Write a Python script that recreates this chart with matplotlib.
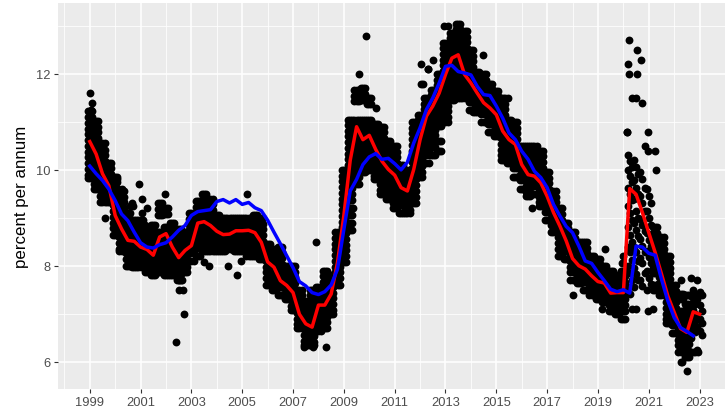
#!/usr/bin/env python3
import matplotlib
matplotlib.use("Agg")
from matplotlib import pyplot as plt

plt.rcParams["font.family"] = ["Liberation Sans", "DejaVu Sans"]

# ------------------------------------------------------------------------------
#  Data
# ------------------------------------------------------------------------------
START_YEAR = 1999

red_line = [
    10.59, 10.33, 9.92, 9.67, 9.05, 8.77, 8.53, 8.51,
    8.39, 8.34, 8.22, 8.60, 8.67, 8.39, 8.17, 8.32,
    8.42, 8.89, 8.92, 8.84, 8.72, 8.65, 8.66, 8.73,
    8.73, 8.74, 8.69, 8.49, 8.08, 7.97, 7.69, 7.59,
    7.44, 6.99, 6.79, 6.72, 7.18, 7.18, 7.41, 8.07,
    9.05, 10.2, 10.9, 10.63, 10.72, 10.43, 10.18, 10.01,
    9.89, 9.63, 9.56, 10.01, 10.63, 11.12, 11.33, 11.6,
    11.99, 12.33, 12.4, 11.99, 11.81, 11.6, 11.4, 11.29,
    11.15, 10.81, 10.63, 10.53, 10.11, 9.9, 9.87, 9.73,
    9.45, 9.11, 8.83, 8.52, 8.15, 8.0, 7.93, 7.79,
    7.67, 7.64, 7.43, 7.44, 7.44, 9.61, 9.49, 9.11,
    8.69, 8.28, 7.83, 7.37, 7.03, 6.69, 6.61, 7.04,
    6.99,
]

blue_line = [
    10.08, 9.92, 9.78, 9.6, 9.36, 9.08, 8.94, 8.7,
    8.48, 8.39, 8.37, 8.44, 8.48, 8.6, 8.74, 8.84,
    9.05, 9.13, 9.15, 9.17, 9.34, 9.38, 9.31, 9.38,
    9.28, 9.32, 9.21, 9.15, 8.95, 8.7, 8.46, 8.21,
    7.96, 7.67, 7.58, 7.44, 7.4, 7.46, 7.6, 7.93,
    8.76, 9.56, 9.8, 10.11, 10.27, 10.34, 10.22, 10.24,
    10.13, 10.0, 10.16, 10.56, 10.88, 11.26, 11.5, 11.81,
    12.16, 12.18, 12.05, 12.02, 11.98, 11.74, 11.57, 11.55,
    11.33, 11.08, 10.77, 10.63, 10.39, 10.22, 9.97, 9.84,
    9.63, 9.28, 9.04, 8.82, 8.69, 8.41, 8.1, 8.05,
    7.86, 7.69, 7.51, 7.46, 7.5, 7.43, 8.41, 8.39,
    8.26, 8.22, 7.72, 7.27, 6.92, 6.71, 6.63, 6.54,
]

# one list of rates per quarter
dots_1999 = [
    [11.22, 11.1, 10.98, 10.86, 10.74, 10.62, 10.5, 10.38, 10.26, 10.14, 10.02, 9.9, 9.82],
    [11.02, 10.9, 10.8, 10.66, 10.56, 10.42, 10.32, 10.18, 10.08, 9.94, 9.84, 9.7, 9.6],
    [10.55, 10.42, 10.3, 10.18, 10.06, 9.94, 9.82, 9.7, 9.58, 9.46, 9.33],
    [10.15, 10.04, 9.92, 9.8, 9.68, 9.56, 9.44, 9.32],
]
dots_2000 = [
    [9.85, 9.74, 9.62, 9.5, 9.38, 9.26, 9.14, 9.02, 8.9, 8.78, 8.65],
    [9.55, 9.44, 9.32, 9.2, 9.08, 8.96, 8.84, 8.72, 8.6, 8.48, 8.36, 8.3],
    [9.1, 8.98, 8.86, 8.74, 8.62, 8.5, 8.38, 8.26, 8.14, 8.0],
    [8.95, 8.84, 8.72, 8.6, 8.48, 8.36, 8.24, 8.12, 7.97],
]
dots_2001 = [
    [8.95, 8.82, 8.7, 8.58, 8.46, 8.34, 8.22, 8.1, 7.97],
    [8.77, 8.66, 8.54, 8.42, 8.3, 8.18, 8.06, 7.94, 7.87],
    [8.85, 8.72, 8.6, 8.48, 8.36, 8.24, 8.12, 8.0, 7.88, 7.8],
    [9.3, 9.18, 9.06, 8.7, 8.58, 8.46, 8.34, 8.22, 8.1, 7.98, 7.87],
]
dots_2002 = [
    [9.2, 9.08, 8.8, 8.68, 8.56, 8.44, 8.32, 8.2, 8.08, 7.96, 7.8],
    [8.9, 8.78, 8.66, 8.54, 8.42, 8.3, 8.18, 8.06, 7.94, 7.8],
    [8.77, 8.66, 8.54, 8.42, 8.3, 8.18, 8.06, 7.94, 7.82, 7.7],
    [8.7, 8.58, 8.46, 8.34, 8.22, 8.1, 7.98, 7.87],
]
dots_2003 = [
    [9.1, 8.98, 8.86, 8.74, 8.62, 8.5, 8.38, 8.26, 8.1],
    [9.35, 9.22, 9.1, 8.98, 8.86, 8.74, 8.62, 8.5, 8.38, 8.2],
    [9.5, 9.38, 9.26, 9.14, 9.02, 8.9, 8.78, 8.66, 8.54, 8.42, 8.3],
    [9.4, 9.28, 9.16, 9.04, 8.92, 8.8, 8.68, 8.56, 8.44, 8.3],
]
dots_2004 = [
    [9.05, 8.94, 8.82, 8.7, 8.58, 8.46, 8.3],
    [9.0, 8.88, 8.76, 8.64, 8.52, 8.4, 8.3],
    [9.0, 8.9, 8.78, 8.66, 8.54, 8.42, 8.35],
    [9.0, 8.88, 8.76, 8.64, 8.52, 8.4, 8.3],
]
dots_2005 = [
    [9.0, 8.9, 8.78, 8.66, 8.54, 8.42, 8.3],
    [9.0, 8.88, 8.76, 8.64, 8.52, 8.4, 8.28, 8.2],
    [9.05, 8.94, 8.82, 8.7, 8.58, 8.46, 8.34, 8.2],
    [9.0, 8.88, 8.76, 8.64, 8.52, 8.4, 8.28, 8.15],
]
dots_2006 = [
    [8.45, 8.34, 8.22, 8.1, 7.98, 7.86, 7.74, 7.6],
    [8.35, 8.24, 8.12, 8.0, 7.88, 7.76, 7.64, 7.5],
    [8.4, 8.28, 8.16, 8.04, 7.92, 7.8, 7.68, 7.56, 7.4],
    [8.0, 7.88, 7.76, 7.64, 7.52, 7.4, 7.3],
]
dots_2007 = [
    [8.0, 7.88, 7.76, 7.64, 7.52, 7.4, 7.28, 7.16, 7.08],
    [7.5, 7.38, 7.26, 7.14, 7.02, 6.9, 6.78, 6.7],
    [7.27, 7.16, 7.04, 6.92, 6.8, 6.68, 6.56, 6.44, 6.35],
    [7.5, 7.38, 7.26, 7.14, 7.02, 6.9, 6.78, 6.66, 6.54, 6.42, 6.35],
]
dots_2008 = [
    [7.55, 7.44, 7.32, 7.2, 7.08, 6.96, 6.84, 6.72, 6.65],
    [7.9, 7.78, 7.66, 7.54, 7.42, 7.3, 7.18, 7.06, 6.94, 6.82, 6.7],
    [7.8, 7.68, 7.56, 7.44, 7.32, 7.2, 7.08, 7.0],
    [8.7, 8.58, 8.46, 8.34, 8.22, 8.1, 7.98, 7.86, 7.74, 7.6],
]
dots_2009 = [
    [10.0, 9.88, 9.76, 9.64, 9.52, 9.4, 9.28, 9.16, 9.04, 8.92, 8.8, 8.68, 8.56, 8.44, 8.32, 8.2, 8.07],
    [11.05, 10.94, 10.82, 10.7, 10.58, 10.46, 10.34, 10.22, 10.1, 9.98, 9.86, 9.74, 9.62, 9.5, 9.38, 9.2, 9.05, 8.9, 8.75],
    [11.67, 11.55, 11.43, 11.05, 10.93, 10.81, 10.69, 10.57, 10.45, 10.33, 10.21, 10.09, 9.97, 9.85, 9.7],
    [11.7, 11.58, 11.46, 11.05, 10.94, 10.82, 10.7, 10.58, 10.46, 10.34, 10.22, 10.1, 9.95],
]
dots_2010 = [
    [11.5, 11.38, 11.05, 10.92, 10.8, 10.68, 10.56, 10.44, 10.32, 10.2, 10.08, 10.0],
    [10.95, 10.84, 10.72, 10.6, 10.48, 10.36, 10.24, 10.12, 10.0, 9.88, 9.8],
    [10.9, 10.78, 10.66, 10.54, 10.42, 10.3, 10.18, 10.06, 9.94, 9.82, 9.7, 9.58, 9.5],
    [10.6, 10.48, 10.36, 10.24, 10.12, 10.0, 9.88, 9.76, 9.64, 9.52, 9.4],
]
dots_2011 = [
    [10.5, 10.38, 10.26, 10.14, 10.02, 9.9, 9.78, 9.66, 9.54, 9.42, 9.3, 9.2],
    [10.1, 9.98, 9.86, 9.74, 9.62, 9.5, 9.38, 9.26, 9.1],
    [10.0, 9.88, 9.76, 9.64, 9.52, 9.4, 9.28, 9.16, 9.1],
    [11.0, 10.88, 10.76, 10.64, 10.52, 10.4, 10.28, 10.16, 10.04, 9.92, 9.8, 9.68, 9.56, 9.44, 9.3],
]
dots_2012 = [
    [11.15, 11.04, 10.92, 10.8, 10.68, 10.56, 10.44, 10.32, 10.2, 10.08, 9.96, 9.85],
    [11.5, 11.38, 11.26, 11.14, 11.02, 10.9, 10.78, 10.66, 10.54, 10.42, 10.3, 10.15],
    [11.67, 11.56, 11.44, 11.32, 11.2, 11.08, 10.96, 10.84, 10.72, 10.6, 10.48, 10.3],
    [12.0, 11.88, 11.76, 11.64, 11.52, 11.4, 11.28, 11.16, 11.04, 10.92, 10.6, 10.4],
]
dots_2013 = [
    [12.65, 12.54, 12.42, 12.3, 12.18, 12.06, 11.94, 11.82, 11.7, 11.58, 11.46, 11.34, 11.22, 11.1, 11.0],
    [12.85, 12.74, 12.62, 12.5, 12.38, 12.26, 12.14, 12.02, 11.9, 11.78, 11.66, 11.54, 11.45],
    [13.05, 12.94, 12.82, 12.7, 12.58, 12.46, 12.34, 12.22, 12.1, 11.98, 11.86, 11.74, 11.62, 11.5],
    [12.9, 12.78, 12.66, 12.54, 12.42, 12.3, 12.18, 12.06, 11.94, 11.82, 11.7, 11.58, 11.5],
]
dots_2014 = [
    [12.5, 12.38, 12.26, 12.14, 12.02, 11.9, 11.78, 11.66, 11.54, 11.42, 11.25],
    [12.05, 11.94, 11.82, 11.7, 11.58, 11.46, 11.34, 11.2],
    [12.0, 11.88, 11.76, 11.64, 11.52, 11.4, 11.28, 11.16, 11.0],
    [11.8, 11.68, 11.56, 11.44, 11.32, 11.2, 11.08, 10.96, 10.8],
]
dots_2015 = [
    [11.65, 11.54, 11.42, 11.3, 11.18, 11.06, 10.94, 10.82, 10.7],
    [11.5, 11.38, 11.26, 11.14, 11.02, 10.9, 10.78, 10.66, 10.54, 10.42, 10.3, 10.2],
    [11.05, 10.94, 10.82, 10.7, 10.58, 10.46, 10.34, 10.22, 10.15],
    [11.0, 10.88, 10.76, 10.64, 10.52, 10.4, 10.28, 10.16, 10.04, 9.85],
]
dots_2016 = [
    [10.5, 10.38, 10.26, 10.14, 10.02, 9.9, 9.78, 9.6],
    [10.5, 10.38, 10.26, 10.14, 10.02, 9.9, 9.78, 9.66, 9.54, 9.45],
    [10.5, 10.38, 10.26, 10.14, 10.02, 9.9, 9.78, 9.66, 9.5],
    [10.4, 10.28, 10.16, 10.04, 9.92, 9.8, 9.68, 9.56, 9.44, 9.32, 9.25],
]
dots_2017 = [
    [9.95, 9.84, 9.72, 9.6, 9.48, 9.36, 9.24, 9.12, 8.95],
    [9.55, 9.44, 9.32, 9.2, 9.08, 8.96, 8.84, 8.7],
    [9.2, 9.08, 8.96, 8.84, 8.72, 8.6, 8.48, 8.36, 8.2],
    [8.9, 8.78, 8.66, 8.54, 8.42, 8.3, 8.15],
]
dots_2018 = [
    [8.7, 8.58, 8.46, 8.34, 8.22, 8.1, 7.98, 7.86, 7.7],
    [8.5, 8.38, 8.26, 8.14, 8.02, 7.9, 7.78, 7.65],
    [8.5, 8.38, 8.26, 8.14, 8.02, 7.9, 7.78, 7.66, 7.5],
    [8.2, 8.08, 7.96, 7.84, 7.72, 7.6, 7.48, 7.4],
]
dots_2019 = [
    [8.15, 8.04, 7.92, 7.8, 7.68, 7.56, 7.44, 7.3],
    [8.0, 7.88, 7.76, 7.64, 7.52, 7.4, 7.25],
    [7.9, 7.78, 7.66, 7.54, 7.42, 7.3, 7.18, 7.05],
    [7.8, 7.68, 7.56, 7.44, 7.32, 7.2, 7.08, 7.0],
]
dots_2020 = [
    [7.9, 7.78, 7.66, 7.54, 7.42, 7.3, 7.18, 7.06, 6.9],
    [10.3, 10.18, 10.05, 10.0, 9.88, 9.75, 9.62, 9.5, 9.38, 9.25, 9.1, 8.95, 8.8, 8.65, 8.5, 8.4, 8.28, 8.12, 8.0, 7.85, 7.7, 7.55, 7.42, 7.1],
    [10.2, 10.05, 9.92, 9.78, 9.62, 9.5, 9.4, 9.15, 9.0, 8.9, 8.75, 8.62, 8.4, 8.28, 8.1, 7.95, 7.82, 7.7, 7.55, 7.1],
    [9.95, 9.8, 9.62, 9.45, 9.3, 9.15, 8.98, 8.85, 8.72, 8.55, 8.42, 8.28, 8.16, 8.05, 7.85, 7.7, 7.58],
]
dots_2021 = [
    [9.6, 9.45, 9.3, 9.15, 9.0, 8.85, 8.68, 8.54, 8.42, 8.3, 8.18, 8.05, 7.9, 7.75, 7.62, 7.5],
    [8.8, 8.68, 8.56, 8.44, 8.32, 8.2, 8.08, 7.96, 7.84, 7.6, 7.5],
    [8.6, 8.48, 8.36, 8.24, 8.12, 8.0, 7.88, 7.76, 7.64, 7.52, 7.4],
    [8.2, 8.08, 7.96, 7.84, 7.72, 7.6, 7.48, 7.36, 7.24, 7.12, 7.0, 6.88, 6.8],
]
dots_2022 = [
    [7.6, 7.48, 7.36, 7.24, 7.12, 7.0, 6.88, 6.76, 6.6],
    [7.42, 7.3, 7.05, 6.94, 6.82, 6.7, 6.58, 6.46, 6.34, 6.2],
    [7.38, 7.2, 7.08, 6.96, 6.84, 6.72, 6.6, 6.48, 6.36, 6.22, 6.1],
    [7.75, 7.5, 7.42, 7.36, 7.25, 7.2, 7.12, 7.08, 7.0, 6.96, 6.9, 6.84, 6.78, 6.72, 6.62, 6.5, 6.2],
]
dots_2023 = [
    [7.7, 7.45, 7.38, 7.3, 7.18, 7.05, 6.95, 6.88, 6.8, 6.72, 6.65, 6.55, 6.25],
]
all_dots = [
    dots_1999, dots_2000, dots_2001, dots_2002, dots_2003, dots_2004, dots_2005,
    dots_2006, dots_2007, dots_2008, dots_2009, dots_2010, dots_2011, dots_2012,
    dots_2013, dots_2014, dots_2015, dots_2016, dots_2017, dots_2018, dots_2019,
    dots_2020, dots_2021, dots_2022, dots_2023,
]
# quarters with thin scatter, where a rate shows up in one month only
sparse_quarters = [2020.25, 2020.5, 2020.75, 2021.0, 2022.75, 2023.0]

# dots standing off the quarterly columns
stray_x = [
    1999.02, 1999.08, 1999.05, 1999.61, 2000.08, 2000.28, 2000.57, 2000.95,
    2001.07, 2000.68, 2000.72, 2001.05, 2001.25, 2001.17, 2001.97, 2002.4,
    2002.52, 2002.62, 2002.72, 2002.68, 2002.5, 2003.49, 2003.7, 2005.17,
    2007.9, 2008.3, 2007.42, 2007.78, 2009.36, 2009.88, 2009.6, 2012.02,
    2012.1, 2012.3, 2012.02, 2012.33, 2012.95, 2013.1, 2014.48, 2013.9,
    2014.1, 2015.45, 2016.42, 2020.22, 2020.19, 2020.22, 2020.33, 2020.15,
    2020.16, 2020.55, 2020.52, 2020.68, 2020.5, 2020.74, 2020.98, 2020.85,
    2020.98, 2021.25, 2021.27, 2020.95, 2021.15, 2022.32, 2022.95, 2022.8,
    2004.44, 2004.81, 2004.95, 2018.0, 2019.27, 2019.16, 2012.52, 2010.26,
    2022.25, 2022.5, 2022.25, 2020.0, 2019.95,
]
stray_y = [
    11.6, 11.4, 11.25, 9.0, 9.8, 9.6, 9.25, 9.7,
    9.4, 9.3, 9.25, 9.1, 9.2, 8.85, 9.5, 6.4,
    7.5, 7.7, 7.0, 7.5, 7.7, 8.07, 8.0, 9.5,
    8.5, 6.3, 6.3, 6.3, 9.2, 12.8, 12.0, 12.2,
    11.8, 12.1, 11.8, 12.1, 13.0, 13.0, 12.4, 11.5,
    11.2, 11.5, 9.2, 12.7, 12.2, 12.0, 11.5, 10.8,
    10.8, 12.5, 12.0, 12.3, 11.5, 11.4, 10.8, 10.5,
    10.4, 10.4, 10.0, 7.05, 7.1, 6.0, 6.2, 6.2,
    8.0, 7.8, 8.1, 7.4, 8.35, 7.1, 12.3, 11.3,
    7.7, 5.8, 6.0, 8.2, 8.05,
]

year_ticks = list(range(1999, 2024, 2))
minor_year_ticks = list(range(1998, 2025, 2))
rate_ticks = [6, 8, 10, 12]
minor_rate_ticks = [7, 9, 11, 13]

# ------------------------------------------------------------------------------
#  Plot
# ------------------------------------------------------------------------------
dot_x = []
dot_y = []
for i_year, year_dots in enumerate(all_dots):
    for i_quarter, quarter_dots in enumerate(year_dots):
        quarter = START_YEAR + i_year + i_quarter / 4
        for i_rate, rate in enumerate(quarter_dots):
            if quarter in sparse_quarters:
                dot_x.append(quarter + (i_rate % 3 - 1) / 12)
                dot_y.append(rate)
            else:
                for month in (-1, 0, 1):
                    dot_x.append(quarter + month / 12)
                    dot_y.append(rate)

red_x = [START_YEAR + i / 4 for i in range(len(red_line))]
blue_x = [START_YEAR + i / 4 for i in range(len(blue_line))]

fig = plt.figure(figsize=(7.25, 4.14), dpi=100)
ax = fig.add_axes([57.5 / 725, 1 - 390 / 414, (725 - 57.5) / 725, (390 - 4) / 414])
ax.set_facecolor("#EBEBEB")
for spine in ax.spines.values():
    spine.set_visible(False)

ax.scatter(dot_x, dot_y, s=32, color="black", linewidths=0, zorder=3)
ax.scatter(stray_x, stray_y, s=32, color="black", linewidths=0, zorder=3)
ax.plot(red_x, red_line, color="#FF0000", lw=2.5, zorder=4, solid_joinstyle="round")
ax.plot(blue_x, blue_line, color="#0000FF", lw=2.5, zorder=5, solid_joinstyle="round")

ax.set_xlim(1997.73, 2023.86)
ax.set_ylim(5.43, 13.48)
ax.set_xticks(year_ticks)
ax.set_xticks(minor_year_ticks, minor=True)
ax.set_yticks(rate_ticks)
ax.set_yticks(minor_rate_ticks, minor=True)
ax.set_axisbelow(True)
ax.grid(which="major", color="white", lw=1.1)
ax.grid(which="minor", color="white", lw=0.55)
ax.tick_params(which="minor", length=0)
ax.tick_params(which="major", length=2.7, width=0.8, color="#333333",
               labelcolor="#4D4D4D", labelsize=9.3, pad=2.2)
ax.set_ylabel("percent per annum", fontsize=12.2, color="black", labelpad=5)

fig.savefig("out.png", dpi=100)
